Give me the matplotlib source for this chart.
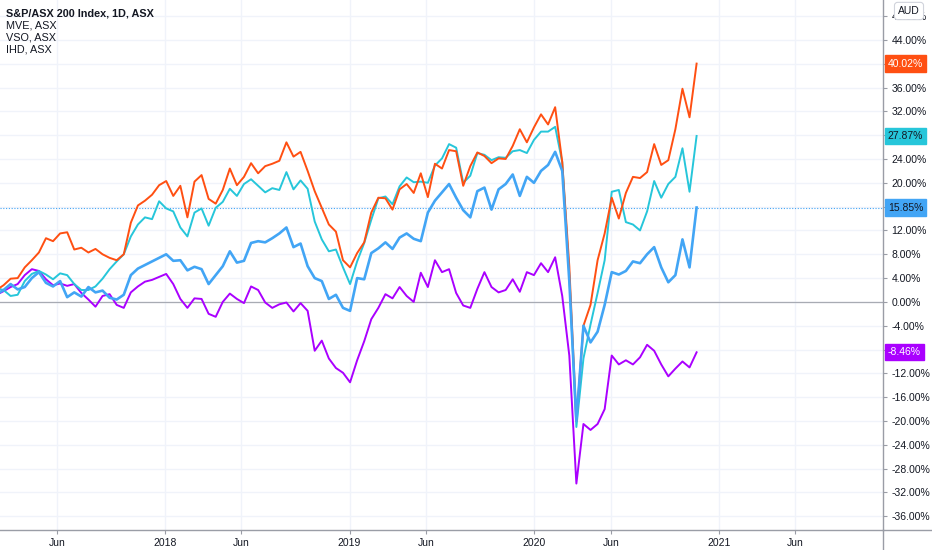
import numpy as np
import pandas as pd
import matplotlib
matplotlib.use('Agg')
import matplotlib.pyplot as plt
from matplotlib.lines import Line2D

plt.rcParams['font.family'] = ['Liberation Sans', 'DejaVu Sans']

# fortnightly closes, % change vs. first bar
dates = pd.date_range(end='2020-11-18', periods=100, freq='14D')

asx200 = [
    1.3, 2.0, 3.0, 2.1, 2.5, 4.0, 5.0, 3.2, 2.6, 3.5,
    0.8, 1.6, 0.9, 2.5, 1.6, 1.9, 0.7, 0.4, 1.2, 4.5,
    5.6, 6.2, 6.8, 7.4, 8.0, 6.9, 7.0, 5.3, 5.9, 5.5,
    3.0, 4.5, 6.0, 8.5, 6.6, 6.9, 9.9, 10.2, 10.0, 10.7,
    11.5, 12.5, 9.2, 9.8, 6.0, 4.0, 3.5, 0.5, 1.2, -1.0,
    -1.5, 4.0, 3.8, 8.2, 9.0, 10.0, 8.9, 10.8, 11.5, 10.6,
    10.2, 15.0, 17.0, 18.4, 19.8, 17.5, 15.4, 14.2, 18.6, 19.2,
    15.5, 18.9, 19.8, 21.4, 17.8, 21.0, 20.0, 22.0, 23.0, 25.2,
    22.0, 3.5, -20.0, -4.0, -6.8, -5.0, -0.5, 5.0, 4.6, 5.2,
    6.8, 6.5, 8.0, 9.2, 5.8, 3.3, 4.5, 10.5, 5.8, 15.85]

mve = [
    2.0, 2.8, 3.9, 4.0, 5.8, 7.0, 8.3, 10.7, 10.2, 11.5,
    11.7, 8.8, 9.1, 8.3, 8.9, 8.0, 7.4, 7.0, 8.0, 13.3,
    16.2, 17.0, 18.0, 19.6, 20.3, 17.8, 19.5, 14.2, 20.2, 21.3,
    17.3, 16.5, 18.8, 22.4, 19.6, 21.0, 23.3, 21.6, 22.8, 23.2,
    23.7, 26.8, 24.4, 25.2, 22.0, 18.6, 15.8, 13.0, 11.8, 7.0,
    5.8, 8.2, 10.0, 15.0, 17.5, 17.4, 15.5, 18.9, 19.8, 18.3,
    21.6, 17.6, 23.2, 22.4, 25.5, 25.3, 19.5, 22.8, 25.1, 24.5,
    23.3, 24.1, 24.0, 26.2, 29.0, 26.8, 29.3, 31.5, 29.8, 32.7,
    23.5, 6.0, -20.0, -4.0, -0.5, 7.0, 11.5, 17.5, 14.0, 18.3,
    21.0, 20.8, 21.8, 26.5, 23.0, 23.8, 29.0, 35.8, 31.0, 40.02]

vso = [
    2.3, 2.0, 1.0, 1.2, 3.5, 4.7, 5.2, 4.6, 3.8, 4.8,
    4.5, 3.0, 2.0, 2.0, 2.6, 3.9, 5.5, 6.8, 8.0, 11.0,
    13.0, 14.2, 13.9, 16.9, 15.7, 15.2, 12.5, 11.0, 15.0, 15.7,
    12.8, 15.8, 16.8, 19.0, 17.8, 19.8, 20.6, 19.5, 18.4, 19.1,
    18.8, 21.8, 18.9, 20.4, 19.0, 13.5, 10.5, 8.5, 8.8, 5.8,
    3.0, 6.8, 9.9, 13.8, 17.4, 17.7, 16.4, 19.4, 20.9, 20.1,
    20.2, 20.0, 22.9, 24.1, 26.5, 25.9, 20.0, 21.2, 25.0, 24.7,
    23.8, 24.3, 24.2, 25.3, 25.5, 25.0, 27.2, 28.6, 28.6, 29.4,
    23.5, 4.5, -21.0, -9.5, -3.8, 1.5, 7.0, 18.5, 18.8, 13.4,
    13.0, 12.0, 15.2, 20.3, 17.5, 19.8, 21.0, 25.8, 18.5, 27.87]

ihd = [
    1.2, 1.8, 2.5, 3.0, 4.5, 5.5, 5.2, 3.8, 2.8, 3.1,
    2.7, 3.0, 1.5, 0.4, -0.8, 1.0, 1.3, -0.5, -1.0, 1.6,
    2.6, 3.4, 3.7, 4.2, 4.7, 3.0, 0.5, -1.0, 0.6, 0.5,
    -2.0, -2.5, 0.0, 1.4, 0.5, -0.2, 2.6, 2.0, -0.1, -1.0,
    -0.4, -0.1, -1.6, -0.2, -1.5, -8.2, -6.5, -9.5, -11.1, -11.9,
    -13.5, -9.8, -6.6, -2.9, -1.0, 1.3, 0.6, 2.5, 1.0, 0.0,
    4.9, 2.5, 7.0, 5.0, 5.5, 1.5, -0.6, -1.0, 2.2, 5.0,
    2.5, 1.6, 2.0, 3.8, 1.7, 5.0, 4.5, 6.5, 5.0, 7.5,
    1.0, -9.0, -30.5, -20.5, -21.5, -20.5, -18.0, -9.0, -10.5, -9.8,
    -10.5, -9.3, -7.2, -8.2, -10.5, -12.5, -11.2, -10.0, -11.0, -8.46]

legend_lines = ['S&P/ASX 200 Index, 1D, ASX', 'MVE, ASX', 'VSO, ASX', 'IHD, ASX']

c_asx = '#42A5F5'
c_mve = '#FF4F12'
c_vso = '#26C6DA'
c_ihd = '#AA00FF'
txt = '#131722'
axis_col = '#9A9DA6'

fig = plt.figure(figsize=(9.32, 5.5), dpi=100)
ax = fig.add_axes([0, 20 / 550, 883 / 932, 530 / 550])

ax.plot(dates, ihd, color=c_ihd, lw=1.4, zorder=3)
ax.plot(dates, vso, color=c_vso, lw=1.4, zorder=4)
ax.plot(dates, mve, color=c_mve, lw=1.4, zorder=5)
ax.plot(dates, asx200, color=c_asx, lw=1.9, zorder=6)

ax.axhline(0, color='#A8ABB3', lw=0.9, zorder=2)
ax.axhline(asx200[-1], color=c_asx, lw=0.8, ls=(0, (1, 1.5)), zorder=2)

ax.set_xlim(pd.Timestamp('2017-02-08'), pd.Timestamp('2021-11-22'))
ax.set_ylim(-38.3, 50.7)

last_vals = [mve[-1], vso[-1], asx200[-1], ihd[-1]]
yt = np.arange(-36, 49, 4)
ax.set_yticks(yt)
# tick labels hidden behind the last-value badges are left blank
ax.set_yticklabels(['' if min(abs(v - lv) for lv in last_vals) < 2.2 else '%.2f%%' % v
                    for v in yt])
ax.yaxis.tick_right()

xt = [pd.Timestamp(s) for s in ['2017-06-01', '2018-01-01', '2018-06-01', '2019-01-01',
                                  '2019-06-01', '2020-01-01', '2020-06-01', '2021-01-01',
                                  '2021-06-01']]
ax.set_xticks(xt)
ax.set_xticklabels([t.strftime('%Y') if t.month == 1 else 'Jun' for t in xt])

ax.tick_params(axis='y', length=3, width=0.8, color=axis_col, pad=3,
               labelsize=7.5, labelcolor=txt)
ax.tick_params(axis='x', length=3, width=0.8, color=axis_col, pad=3,
               labelsize=7.5, labelcolor=txt)

ax.grid(True, color='#F0F3FA', lw=1, zorder=0)
ax.set_axisbelow(True)
for s in ['left', 'top']:
    ax.spines[s].set_visible(False)
for s in ['right', 'bottom']:
    ax.spines[s].set_color(axis_col)
    ax.spines[s].set_linewidth(1)

# axis lines continue into the price/time scale areas
fig.add_artist(Line2D([883 / 932, 883 / 932], [0, 20 / 550], color=axis_col, lw=1))
fig.add_artist(Line2D([883 / 932, 1], [20 / 550, 20 / 550], color=axis_col, lw=1))

# last value labels on the price scale
for val, col, tcol in [(mve[-1], c_mve, 'white'), (vso[-1], c_vso, txt),
                       (asx200[-1], c_asx, txt), (ihd[-1], c_ihd, 'white')]:
    ax.annotate('%.2f%%' % val, xy=(1.0, val), xycoords=('axes fraction', 'data'),
                xytext=(3.5, 0), textcoords='offset points', ha='left', va='center',
                fontsize=7.5, color=tcol, zorder=10, annotation_clip=False,
                bbox=dict(boxstyle='square,pad=0.3', fc=col, ec=col))

# currency badge, drawn over the top tick label like the original
fig.text(909 / 932, 1 - 11 / 550, 'AUD', ha='center', va='center', fontsize=7.5,
         color=txt, zorder=20,
         bbox=dict(boxstyle='round,pad=0.35,rounding_size=0.3', fc='white',
                   ec='#D1D4DC', lw=0.8))

# legend text top-left
for i, s in enumerate(legend_lines):
    fig.text(6 / 932, 1 - (13 + 12 * i) / 550, s, ha='left', va='center',
             fontsize=7.8, color=txt, fontweight='bold' if i == 0 else 'normal')

fig.savefig('out.png', dpi=100, facecolor='white')
